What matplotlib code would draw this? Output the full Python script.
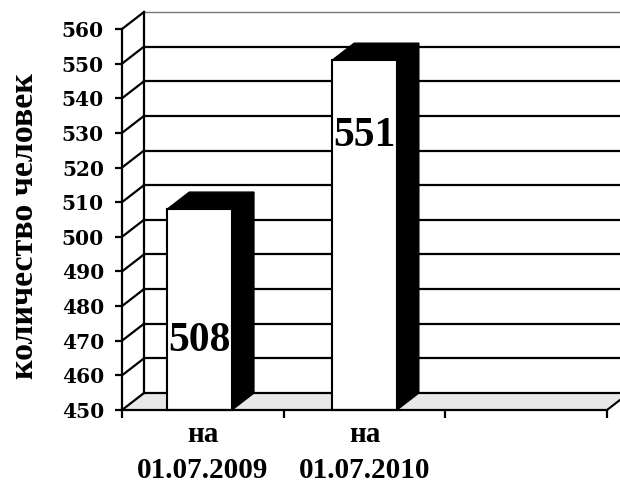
import matplotlib
matplotlib.use("Agg")
import matplotlib.pyplot as plt
from matplotlib.patches import Polygon

# ---- data ----
categories = ["на\n01.07.2009", "на\n01.07.2010"]
values = [508, 551]
y_ticks = list(range(450, 561, 10))
y_label = "количество человек"
n_slots = 3

# ---- layout / style ----
label_y = [470, 529]          # vertical position of value labels (data units)
bar_positions = [0.48, 1.5]
bar_width = 0.4
DX_PX, DY_PX = 22, 17         # 3D depth offset in pixels
serif = ["Liberation Serif", "DejaVu Serif"]

fig = plt.figure(figsize=(6.2, 4.86), dpi=100)
W, H = 620, 486
ax = fig.add_axes([122 / W, 76 / H, 485 / W, 381 / H])
ymin, ymax = y_ticks[0], y_ticks[-1]
ax.set_xlim(0, n_slots)
ax.set_ylim(ymin, ymax)
ax.patch.set_visible(False)

ax_w_px = 485
ax_h_px = 381
ddx = DX_PX * n_slots / ax_w_px
ddy = DY_PX * (ymax - ymin) / ax_h_px

# floor
floor = Polygon([(0, ymin), (n_slots, ymin), (n_slots + ddx, ymin + ddy), (ddx, ymin + ddy)],
                closed=True, facecolor="#e8e8e8", edgecolor="none", zorder=1, clip_on=False)
ax.add_patch(floor)
ax.plot([n_slots, n_slots + ddx], [ymin, ymin + ddy], color="black", lw=1.5, zorder=2, clip_on=False)

# back wall gridlines and left wall slanted lines
for v in y_ticks:
    top = (v == ymax)
    ax.plot([ddx, n_slots + ddx + 0.2], [v + ddy, v + ddy],
            color="#777777" if top else "black", lw=1.0 if top else 1.6,
            zorder=2, clip_on=False)
    ax.plot([0, ddx], [v, v + ddy], color="black", lw=1.6, zorder=2, clip_on=False)
ax.plot([ddx, ddx], [ymin + ddy, ymax + ddy], color="black", lw=1.6, zorder=2, clip_on=False)

# bars
xs = bar_positions
ax.bar(xs, [v - ymin for v in values], bottom=ymin, width=bar_width,
       facecolor="white", edgecolor="black", linewidth=1.5, zorder=5, clip_on=False)
for x, v in zip(xs, values):
    r = x + bar_width / 2
    l = x - bar_width / 2
    side = Polygon([(r, ymin), (r + ddx, ymin + ddy), (r + ddx, v + ddy), (r, v)],
                   closed=True, facecolor="black", edgecolor="black", lw=1, zorder=5, clip_on=False)
    topf = Polygon([(l, v), (r, v), (r + ddx, v + ddy), (l + ddx, v + ddy)],
                   closed=True, facecolor="black", edgecolor="black", lw=1, zorder=5, clip_on=False)
    ax.add_patch(side)
    ax.add_patch(topf)

for x, v, ly in zip(xs, values, label_y):
    ax.text(x, ly, str(v), ha="center", va="center", fontsize=30,
            fontweight="bold", family=serif, zorder=7)

# axes styling
for s in ["top", "right"]:
    ax.spines[s].set_visible(False)
for s in ["left", "bottom"]:
    ax.spines[s].set_linewidth(1.6)
    ax.spines[s].set_zorder(6)

ax.set_yticks(y_ticks)
ax.set_yticklabels([str(t) for t in y_ticks])
for lab in ax.get_yticklabels():
    lab.set_family(["DejaVu Serif"])
    lab.set_fontweight("bold")
    lab.set_fontsize(14.5)
ax.tick_params(axis="y", length=5, width=1.6, pad=8)

ax.set_xticks(list(range(n_slots + 1)))
ax.set_xticklabels([""] * (n_slots + 1))
ax.tick_params(axis="x", which="major", length=6, width=1.6)
ax.set_xticks([i + 0.5 for i in range(len(categories))], minor=True)
ax.set_xticklabels(categories, minor=True)
ax.tick_params(axis="x", which="minor", length=0, pad=8)
for lab in ax.get_xticklabels(minor=True):
    lab.set_family(serif)
    lab.set_fontweight("bold")
    lab.set_fontsize(21)
    lab.set_linespacing(1.4)

fig.text(25 / W, 1 - 226 / H, y_label, rotation=90, ha="center", va="center",
         fontsize=24.5, fontweight="bold", family=serif)

fig.savefig("out.png", dpi=100)
